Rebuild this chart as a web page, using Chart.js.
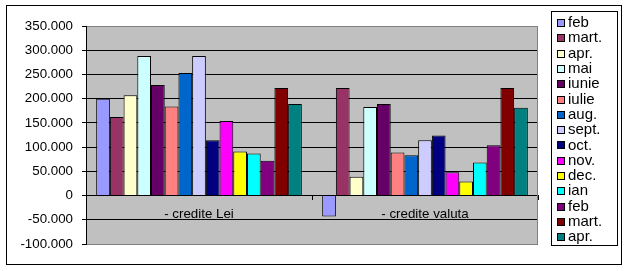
<!DOCTYPE html>
<html>
<head>
<meta charset="utf-8">
<script src="https://cdn.jsdelivr.net/npm/chart.js@4"></script>
<style>
html,body{margin:0;padding:0;background:#fff;}
#wrap{width:629px;height:271px;position:relative;}
</style>
</head>
<body>
<div id="wrap"><canvas id="c" width="629" height="271"></canvas></div>
<script>
const categories = ['- credite Lei', '- credite valuta'];
const seriesNames = ['feb','mart.','apr.','mai','iunie','iulie','aug.','sept.','oct.','nov.','dec.','ian','feb','mart.','apr.'];
const seriesColors = ['#9999FF','#993366','#FFFFCC','#CCFFFF','#660066','#FF8080','#0066CC','#CCCCFF','#000080','#FF00FF','#FFFF00','#00FFFF','#800080','#800000','#008080'];
// values per series: [credite Lei, credite valuta]
const feb1  = [200000, -43000];
const mart1 = [162000, 222000];
const apr1  = [207000, 39000];
const mai   = [288000, 183000];
const iunie = [228000, 189000];
const iulie = [184000, 89000];
const aug   = [253000, 83000];
const sept  = [288000, 114000];
const oct   = [114000, 124000];
const nov   = [154000, 48000];
const dec   = [91000, 29000];
const ian   = [87000, 68000];
const feb2  = [72000, 104000];
const mart2 = [222000, 222000];
const apr2  = [189000, 181000];
const seriesValues = [feb1, mart1, apr1, mai, iunie, iulie, aug, sept, oct, nov, dec, ian, feb2, mart2, apr2];
const yMin = -100000, yMax = 350000, yStep = 50000;

const FONT = 'Liberation Sans, Arial, sans-serif';

function fmt(v){
  if (v === 0) return '0';
  return (v/1000).toFixed(0) + '.000';
}

const framePlugin = {
  id: 'frame',
  beforeDraw(chart){
    const ctx = chart.ctx, a = chart.chartArea;
    ctx.save();
    ctx.fillStyle = '#FFFFFF';
    ctx.fillRect(0,0,chart.width,chart.height);
    ctx.fillStyle = '#C0C0C0';
    ctx.fillRect(a.left, a.top, a.right-a.left, a.bottom-a.top);
    ctx.restore();
  },
  beforeDatasetsDraw(chart){
    const ctx = chart.ctx, a = chart.chartArea;
    ctx.save();
    ctx.strokeStyle = '#808080';
    ctx.lineWidth = 1;
    ctx.beginPath();
    ctx.moveTo(Math.round(a.right)-0.5, a.top);
    ctx.lineTo(Math.round(a.right)-0.5, a.bottom);
    ctx.stroke();
    ctx.restore();
  },
  afterDraw(chart){
    const ctx = chart.ctx;
    ctx.save();
    ctx.strokeStyle = '#000';
    ctx.lineWidth = 1;
    ctx.strokeRect(6.5, 5.5, 615, 259);
    // legend
    ctx.strokeRect(551.5, 11.5, 66, 234);
    ctx.font = '15px ' + FONT;
    ctx.textBaseline = 'middle';
    ctx.textAlign = 'left';
    chart.data.datasets.forEach((ds, i) => {
      const cy = 22.5 + i * 15.3;
      const sy = Math.round(cy - 3.5);
      ctx.fillStyle = ds.backgroundColor;
      ctx.fillRect(557, sy, 7, 7);
      ctx.strokeRect(557.5, sy + 0.5, 7, 7);
      ctx.fillStyle = '#000';
      ctx.fillText(ds.label, 568, cy + 0.5);
    });
    ctx.restore();
  }
};

new Chart(document.getElementById('c'), {
  type: 'bar',
  data: {
    labels: categories,
    datasets: seriesNames.map((n, i) => ({
      label: n,
      data: seriesValues[i],
      backgroundColor: seriesColors[i],
      borderColor: '#000',
      borderWidth: 1,
      categoryPercentage: 0.91,
      barPercentage: 1.0
    }))
  },
  options: {
    responsive: false,
    animation: false,
    events: [],
    layout: { padding: { top: 26, bottom: 27, left: 0, right: 91 } },
    plugins: { legend: { display: false }, tooltip: { enabled: false } },
    scales: {
      x: {
        position: { y: 0 },
        offset: true,
        grid: { offset: true, drawOnChartArea: false, drawTicks: true, tickLength: 4, color: '#000', lineWidth: 1 },
        border: { display: true, color: '#000', width: 1 },
        ticks: { color: '#000', font: { family: FONT, size: 13.33 }, padding: 7, maxRotation: 0, autoSkip: false }
      },
      y: {
        min: yMin, max: yMax,
        afterFit(scale){ scale.width = 86; },
        grid: {
          color: (c) => (c.tick && (c.tick.value === yMax || c.tick.value === yMin)) ? '#808080' : '#000',
          tickColor: '#000',
          tickLength: 4,
          lineWidth: 1
        },
        border: { display: true, color: '#000', width: 1 },
        ticks: {
          stepSize: yStep,
          color: '#000',
          padding: 9,
          font: { family: FONT, size: 13.33 },
          callback: (v) => fmt(v)
        }
      }
    }
  },
  plugins: [framePlugin]
});
</script>
</body>
</html>
